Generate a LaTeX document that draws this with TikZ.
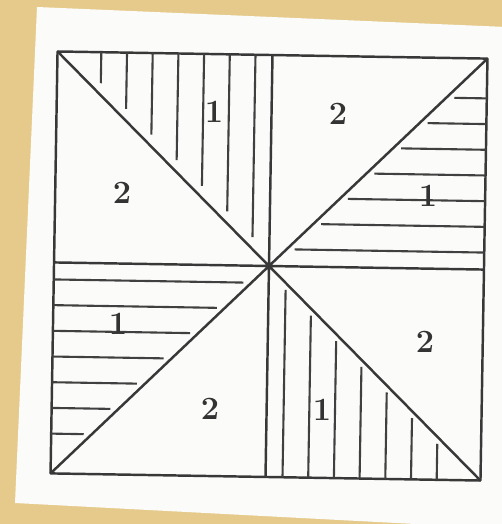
\documentclass[tikz,border=0pt]{standalone}
\definecolor{parchment}{RGB}{230,202,140}
\definecolor{sheet}{RGB}{251,251,250}
\tikzset{
  border/.style={draw=black!78,line width=1.4pt,line join=round},
  hatchline/.style={draw=black!75,line width=1.2pt},
  digit/.style={font=\fontsize{18.5}{18.5}\selectfont\bfseries,text=black!80,inner sep=0pt}
}

\begin{document}
\begin{tikzpicture}[x=0.02cm,y=-0.02cm]
  \clip (0,0) rectangle (502,524);
  \fill[parchment] (0,0) rectangle (502,524);
  \fill[sheet] (37,7) -- (530,28) -- (530,530) -- (15,503) -- cycle;
  \begin{scope}[shift={(269,266)},rotate=-0.95]
    \coordinate (o) at (0,0);
    \coordinate (tl) at (-215,-211);
    \coordinate (tr) at (215,-211);
    \coordinate (br) at (215,211);
    \coordinate (bl) at (-215,211);
    \coordinate (t) at (0,-211);
    \coordinate (b) at (0,211);
    \coordinate (l) at (-215,0);
    \coordinate (r) at (215,0);
    \draw[border] (tl) -- (tr) -- (br) -- (bl) -- cycle;
    \draw[border] (tl) -- (br) (tr) -- (bl) (t) -- (b) (l) -- (r);
    \foreach \d in {17,42.7,...,172} {
      \draw[hatchline] (-\d,-211) -- (-\d,{-0.981*\d-12});
      \draw[hatchline] (215,-\d) -- ({1.019*\d+8},-\d);
      \draw[hatchline] (\d,211) -- (\d,{0.981*\d+7});
      \draw[hatchline] (-215,\d) -- ({-1.019*\d-8},\d);
    }
  \end{scope}
  \node[digit] (top1) at (214,112) {1};
  \node[digit] (top2) at (338,114) {2};
  \node[digit] (right1) at (428,196) {1};
  \node[digit] (right2) at (425,342) {2};
  \node[digit] (bot1) at (322,410) {1};
  \node[digit] (bot2) at (210,409) {2};
  \node[digit] (left1) at (118,324) {1};
  \node[digit] (left2) at (122,193) {2};
\end{tikzpicture}
\end{document}
